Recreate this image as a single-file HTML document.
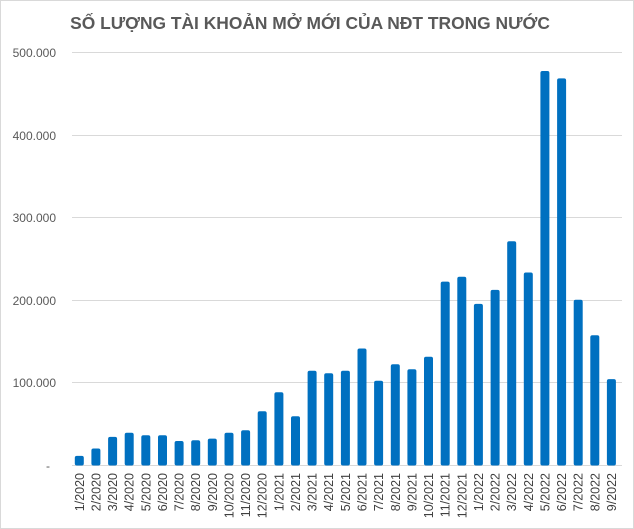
<!DOCTYPE html>
<html><head><meta charset="utf-8"><style>body{margin:0;background:#fff}svg{display:block}</style></head><body>
<svg width="634" height="529" xmlns="http://www.w3.org/2000/svg" font-family="Liberation Sans, sans-serif">
<rect x="0.5" y="0.5" width="633" height="528" fill="#fff" stroke="#d9d9d9"/>
<text x="310" y="29" text-anchor="middle" font-size="17.4" font-weight="bold" fill="#595959">SỐ LƯỢNG TÀI KHOẢN MỞ MỚI CỦA NĐT TRONG NƯỚC</text>
<g stroke="#d9d9d9" stroke-width="1">
<line x1="72" x2="622" y1="52.5" y2="52.5"/><line x1="72" x2="622" y1="135.5" y2="135.5"/><line x1="72" x2="622" y1="217.5" y2="217.5"/><line x1="72" x2="622" y1="300.5" y2="300.5"/><line x1="72" x2="622" y1="382.5" y2="382.5"/><line x1="72" x2="622" y1="465.5" y2="465.5"/>
</g>
<g font-size="12" fill="#595959" text-anchor="end">
<text x="56" y="57">500.000</text><text x="56" y="140">400.000</text><text x="56" y="222">300.000</text><text x="56" y="305">200.000</text><text x="56" y="387">100.000</text><text x="50" y="470">-</text>
</g>
<g fill="#0070c0">
<rect x="74.8" y="455.9" width="9" height="9.6" rx="2"/>
<rect x="91.4" y="448.5" width="9" height="17" rx="2"/>
<rect x="108.1" y="436.9" width="9" height="28.6" rx="2"/>
<rect x="124.7" y="432.8" width="9" height="32.7" rx="2"/>
<rect x="141.3" y="435.3" width="9" height="30.2" rx="2"/>
<rect x="158.0" y="435.3" width="9" height="30.2" rx="2"/>
<rect x="174.6" y="441.0" width="9" height="24.5" rx="2"/>
<rect x="191.2" y="440.2" width="9" height="25.3" rx="2"/>
<rect x="207.8" y="438.6" width="9" height="26.9" rx="2"/>
<rect x="224.5" y="432.8" width="9" height="32.7" rx="2"/>
<rect x="241.1" y="430.3" width="9" height="35.2" rx="2"/>
<rect x="257.7" y="411.3" width="9" height="54.2" rx="2"/>
<rect x="274.4" y="392.3" width="9" height="73.2" rx="2"/>
<rect x="291.0" y="416.3" width="9" height="49.2" rx="2"/>
<rect x="307.6" y="370.8" width="9" height="94.7" rx="2"/>
<rect x="324.2" y="373.3" width="9" height="92.2" rx="2"/>
<rect x="340.9" y="370.8" width="9" height="94.7" rx="2"/>
<rect x="357.5" y="348.5" width="9" height="117" rx="2"/>
<rect x="374.1" y="380.7" width="9" height="84.8" rx="2"/>
<rect x="390.8" y="364.2" width="9" height="101.3" rx="2"/>
<rect x="407.4" y="369.2" width="9" height="96.3" rx="2"/>
<rect x="424.0" y="356.8" width="9" height="108.7" rx="2"/>
<rect x="440.7" y="281.6" width="9" height="183.9" rx="2"/>
<rect x="457.3" y="276.7" width="9" height="188.8" rx="2"/>
<rect x="473.9" y="303.9" width="9" height="161.6" rx="2"/>
<rect x="490.6" y="289.9" width="9" height="175.6" rx="2"/>
<rect x="507.2" y="241.2" width="9" height="224.3" rx="2"/>
<rect x="523.8" y="272.5" width="9" height="193" rx="2"/>
<rect x="540.4" y="71.0" width="9" height="394.5" rx="2"/>
<rect x="557.1" y="78.4" width="9" height="387.1" rx="2"/>
<rect x="573.7" y="299.8" width="9" height="165.7" rx="2"/>
<rect x="590.3" y="335.3" width="9" height="130.2" rx="2"/>
<rect x="606.9" y="379.1" width="9" height="86.4" rx="2"/>
</g>
<g font-size="12.5" fill="#404040" text-anchor="end">
<text transform="translate(83.8,473) rotate(-90)">1/2020</text>
<text transform="translate(100.4,473) rotate(-90)">2/2020</text>
<text transform="translate(117.1,473) rotate(-90)">3/2020</text>
<text transform="translate(133.7,473) rotate(-90)">4/2020</text>
<text transform="translate(150.3,473) rotate(-90)">5/2020</text>
<text transform="translate(167.0,473) rotate(-90)">6/2020</text>
<text transform="translate(183.6,473) rotate(-90)">7/2020</text>
<text transform="translate(200.2,473) rotate(-90)">8/2020</text>
<text transform="translate(216.8,473) rotate(-90)">9/2020</text>
<text transform="translate(233.5,473) rotate(-90)">10/2020</text>
<text transform="translate(250.1,473) rotate(-90)">11/2020</text>
<text transform="translate(266.7,473) rotate(-90)">12/2020</text>
<text transform="translate(283.4,473) rotate(-90)">1/2021</text>
<text transform="translate(300.0,473) rotate(-90)">2/2021</text>
<text transform="translate(316.6,473) rotate(-90)">3/2021</text>
<text transform="translate(333.2,473) rotate(-90)">4/2021</text>
<text transform="translate(349.9,473) rotate(-90)">5/2021</text>
<text transform="translate(366.5,473) rotate(-90)">6/2021</text>
<text transform="translate(383.1,473) rotate(-90)">7/2021</text>
<text transform="translate(399.8,473) rotate(-90)">8/2021</text>
<text transform="translate(416.4,473) rotate(-90)">9/2021</text>
<text transform="translate(433.0,473) rotate(-90)">10/2021</text>
<text transform="translate(449.7,473) rotate(-90)">11/2021</text>
<text transform="translate(466.3,473) rotate(-90)">12/2021</text>
<text transform="translate(482.9,473) rotate(-90)">1/2022</text>
<text transform="translate(499.6,473) rotate(-90)">2/2022</text>
<text transform="translate(516.2,473) rotate(-90)">3/2022</text>
<text transform="translate(532.8,473) rotate(-90)">4/2022</text>
<text transform="translate(549.4,473) rotate(-90)">5/2022</text>
<text transform="translate(566.1,473) rotate(-90)">6/2022</text>
<text transform="translate(582.7,473) rotate(-90)">7/2022</text>
<text transform="translate(599.3,473) rotate(-90)">8/2022</text>
<text transform="translate(615.9,473) rotate(-90)">9/2022</text>
</g>
</svg>
</body></html>
